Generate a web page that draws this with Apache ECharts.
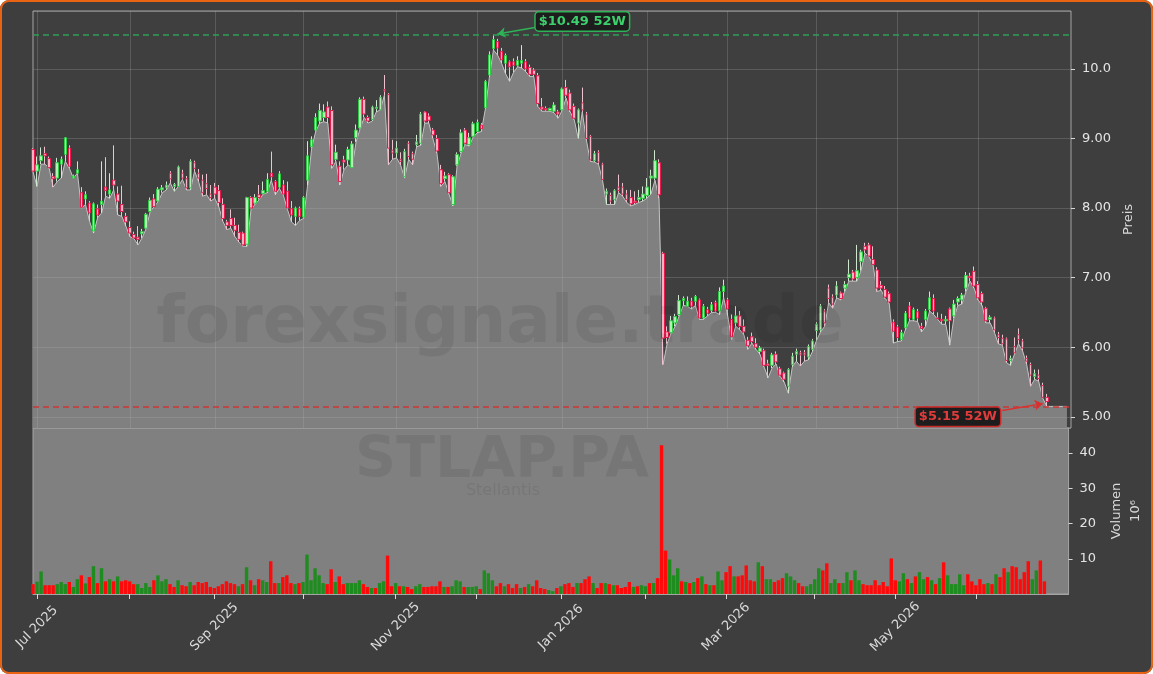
<!DOCTYPE html>
<html>
<head>
<meta charset="utf-8">
<script src="https://cdn.jsdelivr.net/npm/echarts@6/dist/echarts.min.js"></script>
<style>
  html, body { margin: 0; padding: 0; background: #ffffff; }
  #wrap { position: relative; width: 1153px; height: 674px; }
  #main { position: absolute; left: 0; top: 0; width: 1153px; height: 674px; border-radius: 9px; overflow: hidden; }
  #frame { position: absolute; left: 0; top: 0; width: 1153px; height: 674px; box-sizing: border-box;
           border: 2px solid #ea6313; border-radius: 9px; pointer-events: none; }
</style>
</head>
<body>
<div id="wrap">
  <div id="main"></div>
  <div id="frame"></div>
</div>
<script>
// daily OHLC, STLAP.PA, first bar 2025-06-30
var openP = [
  8.84,8.53,8.68,8.78,8.71,8.45,8.43,8.63,8.77,8.86,
  8.43,8.50,8.22,8.13,8.07,7.67,7.99,8.05,8.30,8.20,
  8.40,8.20,8.05,7.88,7.72,7.62,7.58,7.63,7.71,7.95,
  8.13,8.10,8.26,8.29,8.50,8.31,8.31,8.50,8.42,8.29,
  8.65,8.50,8.40,8.35,8.20,8.30,8.25,8.05,7.80,7.85,
  7.75,7.65,7.64,7.48,8.15,8.07,8.19,8.21,8.24,8.50,
  8.38,8.30,8.33,8.24,7.99,7.88,7.99,7.87,8.40,8.88,
  9.12,9.25,9.30,9.45,9.40,8.70,8.60,8.69,8.69,8.58,
  9.01,9.15,9.56,9.30,9.27,9.43,9.41,9.70,9.63,8.83,
  8.79,8.70,8.45,8.93,8.78,8.91,8.93,9.38,9.32,9.12,
  9.00,8.55,8.42,8.48,8.05,8.62,8.81,9.12,8.91,9.03,
  9.10,9.19,9.44,9.91,10.29,10.39,10.25,10.08,10.10,10.10,
  10.05,10.08,10.10,10.02,9.98,9.90,9.45,9.43,9.40,9.39,
  9.38,9.41,9.73,9.65,9.46,9.22,9.51,9.35,9.03,8.68,
  8.80,8.63,8.20,8.18,8.12,8.30,8.30,8.20,8.15,8.10,
  8.12,8.14,8.18,8.43,8.43,8.65,7.35,6.22,6.21,6.35,
  6.47,6.67,6.59,6.66,6.66,6.68,6.42,6.54,6.53,6.64,
  6.52,6.80,6.68,6.40,6.35,6.45,6.30,6.10,6.15,6.05,
  5.94,5.95,5.76,5.74,5.90,5.69,5.63,5.44,5.75,5.90,
  5.92,5.92,5.86,5.97,6.24,6.25,6.52,6.85,6.72,6.75,
  6.78,6.85,7.00,7.08,7.00,7.23,7.45,7.47,7.26,7.11,
  6.89,6.83,6.77,6.36,6.29,6.11,6.28,6.59,6.40,6.51,
  6.30,6.40,6.54,6.70,6.42,6.40,6.38,6.55,6.45,6.65,
  6.68,6.85,7.02,7.09,6.90,6.77,6.56,6.40,6.42,6.18,
  6.13,6.12,5.81,6.01,6.18,6.09,5.84,5.75,5.58,5.60,
  5.45,5.28
];
var closeP = [
  8.53,8.62,8.75,8.75,8.58,8.42,8.65,8.70,9.01,8.60,
  8.46,8.55,8.01,8.19,7.93,8.06,7.90,8.10,8.25,8.26,
  8.33,8.10,7.95,7.80,7.64,7.57,7.55,7.66,7.91,8.11,
  8.02,8.27,8.29,8.33,8.42,8.34,8.59,8.43,8.29,8.67,
  8.57,8.43,8.22,8.28,8.15,8.20,8.08,7.85,7.75,7.75,
  7.68,7.55,7.47,8.15,8.00,8.15,8.15,8.25,8.41,8.45,
  8.24,8.49,8.20,8.00,7.90,8.00,7.88,8.15,8.75,8.98,
  9.30,9.40,9.38,9.30,8.62,8.80,8.38,8.66,8.84,8.92,
  9.12,9.56,9.35,9.25,9.45,9.45,9.59,9.68,8.86,8.79,
  8.86,8.67,8.81,8.74,8.70,8.95,9.35,9.25,9.26,9.05,
  8.82,8.35,8.46,8.22,8.45,8.77,9.08,8.93,9.01,9.21,
  9.23,9.14,9.82,10.20,10.42,10.30,10.13,10.19,10.03,10.05,
  10.12,10.12,10.00,9.92,9.92,9.50,9.42,9.41,9.43,9.48,
  9.35,9.71,9.62,9.41,9.29,9.41,9.41,9.00,8.69,8.78,
  8.66,8.41,8.24,8.10,8.25,8.25,8.20,8.12,8.06,8.08,
  8.15,8.20,8.30,8.46,8.68,8.19,6.13,6.14,6.38,6.44,
  6.67,6.70,6.66,6.59,6.73,6.42,6.59,6.49,6.61,6.52,
  6.80,6.88,6.55,6.15,6.45,6.30,6.22,6.02,6.08,6.00,
  5.99,5.74,5.74,5.89,5.79,5.60,5.54,5.68,5.87,5.94,
  5.89,5.89,6.01,6.09,6.33,6.59,6.35,6.70,6.62,6.88,
  6.70,6.90,7.05,6.98,7.10,7.37,7.40,7.31,7.19,6.85,
  6.85,6.72,6.65,6.23,6.14,6.21,6.49,6.42,6.54,6.42,
  6.27,6.52,6.71,6.52,6.41,6.38,6.40,6.38,6.62,6.70,
  6.75,7.03,7.00,6.88,6.71,6.65,6.38,6.43,6.25,6.14,
  6.05,5.81,5.84,5.92,6.11,5.99,5.80,5.60,5.62,5.55,
  5.28,5.22
];
var highP = [
  8.86,8.74,8.87,8.88,8.74,8.50,8.72,8.74,9.02,8.90,
  8.48,8.67,8.30,8.24,8.10,8.08,8.05,8.67,8.73,8.50,
  8.90,8.31,8.32,7.93,7.81,7.66,7.74,7.70,7.93,8.15,
  8.20,8.30,8.33,8.38,8.53,8.36,8.61,8.55,8.46,8.70,
  8.68,8.56,8.48,8.49,8.33,8.36,8.33,8.14,7.83,7.98,
  7.86,7.76,7.66,8.16,8.17,8.20,8.33,8.38,8.50,8.81,
  8.40,8.53,8.40,8.38,8.10,8.02,8.02,8.17,8.96,9.03,
  9.36,9.50,9.49,9.53,9.46,8.91,8.67,8.75,8.88,8.96,
  9.20,9.59,9.60,9.33,9.47,9.55,9.62,9.91,9.65,8.98,
  8.96,8.80,8.85,8.96,8.81,9.05,9.38,9.39,9.36,9.15,
  9.05,8.62,8.52,8.50,8.47,8.80,9.13,9.15,9.08,9.24,
  9.27,9.22,9.84,10.25,10.49,10.43,10.30,10.22,10.12,10.15,
  10.18,10.34,10.14,10.06,10.01,9.94,9.58,9.46,9.44,9.52,
  9.41,9.73,9.84,9.70,9.50,9.43,9.73,9.38,9.05,8.82,
  8.83,8.65,8.28,8.22,8.27,8.48,8.36,8.26,8.26,8.24,
  8.26,8.31,8.43,8.55,8.83,8.70,7.37,6.30,6.45,6.48,
  6.75,6.73,6.73,6.71,6.75,6.70,6.62,6.58,6.65,6.67,
  6.86,6.97,6.71,6.47,6.59,6.52,6.40,6.15,6.21,6.13,
  6.02,5.98,5.82,5.92,5.94,5.72,5.65,5.70,5.92,5.98,
  5.95,5.96,6.04,6.12,6.36,6.62,6.55,6.90,6.76,6.95,
  6.80,6.95,7.26,7.11,7.47,7.40,7.50,7.50,7.45,7.15,
  6.95,6.88,6.80,6.40,6.32,6.25,6.52,6.65,6.57,6.55,
  6.35,6.55,6.80,6.76,6.50,6.48,6.45,6.57,6.68,6.73,
  6.78,7.08,7.07,7.16,6.95,6.80,6.58,6.46,6.44,6.22,
  6.18,6.14,5.88,6.14,6.27,6.12,5.88,5.78,5.68,5.68,
  5.49,5.33
];
var lowP = [
  8.52,8.31,8.63,8.63,8.57,8.30,8.38,8.43,8.67,8.57,
  8.43,8.50,8.00,8.05,7.81,7.64,7.86,7.93,8.17,8.14,
  8.26,7.90,7.88,7.74,7.59,7.56,7.47,7.57,7.70,7.95,
  8.02,8.09,8.22,8.26,8.36,8.24,8.31,8.41,8.26,8.26,
  8.53,8.38,8.17,8.19,8.10,8.14,8.02,7.81,7.69,7.71,
  7.59,7.51,7.45,7.45,7.99,8.05,8.12,8.20,8.22,8.40,
  8.19,8.28,8.18,7.98,7.80,7.75,7.82,7.85,8.33,8.86,
  9.10,9.22,9.24,9.22,8.57,8.67,8.33,8.55,8.62,8.58,
  8.95,9.14,9.30,9.22,9.25,9.38,9.41,9.62,8.62,8.70,
  8.72,8.62,8.43,8.70,8.62,8.88,8.90,9.22,9.22,9.00,
  8.79,8.31,8.38,8.20,8.03,8.60,8.79,8.91,8.89,9.02,
  9.08,9.10,9.42,9.88,10.27,10.20,10.08,9.93,9.82,9.95,
  10.03,10.01,9.96,9.89,9.89,9.46,9.39,9.39,9.39,9.37,
  9.29,9.40,9.58,9.38,9.27,9.00,9.38,8.98,8.67,8.66,
  8.63,8.40,8.05,8.05,8.05,8.22,8.17,8.08,8.03,8.05,
  8.08,8.10,8.14,8.20,8.40,8.14,5.75,6.05,6.20,6.30,
  6.45,6.60,6.59,6.55,6.60,6.40,6.40,6.45,6.50,6.50,
  6.47,6.71,6.45,6.11,6.30,6.25,6.18,5.97,6.06,5.97,
  5.90,5.72,5.56,5.70,5.76,5.58,5.50,5.34,5.72,5.80,
  5.73,5.80,5.82,5.94,6.10,6.22,6.30,6.64,6.56,6.71,
  6.68,6.80,6.95,6.95,6.95,7.10,7.35,7.30,7.18,6.80,
  6.82,6.70,6.63,6.06,6.08,6.09,6.25,6.38,6.38,6.37,
  6.22,6.30,6.52,6.47,6.40,6.33,6.33,6.03,6.42,6.60,
  6.62,6.80,6.95,6.85,6.68,6.60,6.35,6.35,6.22,6.05,
  6.03,5.78,5.74,5.90,6.05,5.95,5.76,5.44,5.54,5.51,
  5.27,5.15
];
// the shaded price area keeps going flat after the last candle
var areaTail = [5.15, 5.15, 5.15, 5.15, 5.15];

// volume in millions
var volumes = [
  2.8,3.5,6.4,2.5,2.5,2.5,2.8,3.4,2.8,3.4,
  2.0,4.2,5.3,3.0,4.8,7.9,3.1,7.3,3.6,4.2,
  3.6,5.0,3.6,3.9,3.6,2.8,2.8,1.7,3.1,2.0,
  3.9,5.3,3.6,4.2,2.8,2.0,3.9,2.5,2.2,3.4,
  2.5,3.4,3.1,3.4,2.0,1.7,2.2,2.8,3.6,3.1,
  2.8,2.2,2.8,7.6,3.9,2.5,4.2,3.9,3.4,9.3,
  3.1,3.1,4.8,5.3,3.1,2.8,3.1,3.4,11.2,3.9,
  7.3,5.3,3.1,2.8,7.0,3.4,5.0,2.8,3.1,3.1,
  3.1,3.9,2.8,2.0,1.7,1.7,3.1,3.6,10.9,2.2,
  3.1,2.2,2.2,2.0,1.4,2.2,2.8,2.0,2.0,2.2,
  2.2,3.6,2.0,2.0,2.2,3.9,3.6,2.0,2.0,2.0,
  2.2,1.4,6.7,5.9,3.9,2.2,3.1,2.2,2.8,1.7,
  2.8,1.7,2.0,2.8,2.2,3.9,1.7,1.4,1.1,0.8,
  1.7,2.2,2.8,3.1,2.0,3.1,3.1,4.2,5.0,3.1,
  1.7,3.1,3.1,2.8,2.5,2.5,1.7,2.0,3.4,2.0,
  2.2,2.5,2.2,3.1,3.1,4.5,42.2,12.3,9.8,5.3,
  7.3,3.6,3.4,3.1,3.4,4.5,5.0,2.8,2.5,2.5,
  6.4,3.9,6.2,7.9,5.0,5.0,5.3,8.1,3.9,3.6,
  9.0,7.9,4.2,4.2,3.4,3.9,4.5,5.9,5.0,3.9,
  3.1,2.2,2.2,2.8,4.2,7.3,6.7,8.7,3.1,4.2,
  3.1,3.1,6.2,3.9,6.7,3.9,2.8,2.5,2.5,3.9,
  2.5,3.4,2.2,10.1,3.9,3.6,5.9,4.2,3.1,5.0,
  6.2,4.2,4.8,3.9,2.8,4.5,9.0,5.3,2.8,2.8,
  5.6,2.5,5.6,3.6,2.5,4.2,2.8,3.1,2.8,5.6,
  4.8,7.3,6.2,7.9,7.6,4.2,6.2,9.3,4.2,6.7,
  9.5,3.6
];
// g = up day, r = down day (colour of the volume bar)
var volumeDir = [
  "rggrrrgggr","ggrgrgrgrg","rgrrrrgggg","rgggrrgrrg","rrrrrrrrrr",
  "rgrgrgrggr","rgrrrgrggg","gggrrgrrgg","ggrrgrggrr","grgrrggrrr",
  "rrgrgggrgg","grgggrrgrr","rgrgrrrrgg","rgrrrgrrrg","rrgrgrrrrg",
  "rggrgrrrgg","grgrgrgrgr","ggrrgrrrrr","grggrrrggg","rrggggrrgg",
  "rggrggrrrr","rrrrrggrgr","ggrgrgrggg","ggrrrrrgrg","rrgrrrrrgg","rr"
].join("");

var high52 = 10.49;
var low52 = 5.15;
var ticker = "STLAP.PA";
var company = "Stellantis";

var monthNames = ["Jan","Feb","Mar","Apr","May","Jun","Jul","Aug","Sep","Oct","Nov","Dec"];
var holidays = ["2025-12-25","2025-12-26","2026-01-01","2026-04-03","2026-04-06","2026-05-01"];

// Euronext trading calendar
function tradingDays(start, count) {
  var out = [];
  var d = new Date(start + "T00:00:00Z");
  while (out.length < count) {
    var wd = d.getUTCDay();
    var s = d.toISOString().slice(0, 10);
    if (wd !== 0 && wd !== 6 && holidays.indexOf(s) < 0) out.push(s);
    d.setUTCDate(d.getUTCDate() + 1);
  }
  return out;
}

var nBars = openP.length;
var days = tradingDays("2025-06-30", nBars + areaTail.length + 1);

function isMonthStart(i) {
  return i > 0 && i < nBars && days[i].slice(5, 7) !== days[i - 1].slice(5, 7);
}
function isLabelMonth(i) {
  return isMonthStart(i) && (+days[i].slice(5, 7)) % 2 === 1;
}

var areaData = lowP.concat(areaTail);
var wickData = [], bodyData = [], volData = [];
for (var i = 0; i < nBars; i++) {
  var o = openP[i], c = closeP[i];
  var lo = Math.min(lowP[i], o, c), hi = Math.max(highP[i], o, c);
  wickData.push([o, c, lo, hi]);
  bodyData.push([o, c, Math.min(o, c), Math.max(o, c)]);
  volData.push({
    value: volumes[i],
    itemStyle: { color: volumeDir[i] === "g" ? "#1f8c1f" : "#ff0a0a" }
  });
}

var font = "DejaVu Sans";
var gridLine = "rgba(176,176,176,0.25)";

var chart = echarts.init(document.getElementById("main"));
chart.setOption({
  animation: false,
  backgroundColor: "#3e3e3e",
  textStyle: { fontFamily: font },
  grid: [
    { left: 33, right: 82, top: 11, height: 417, show: true,
      backgroundColor: "#3f3f3f", borderColor: "#a4a4a4", borderWidth: 1 },
    { left: 33, right: 82, top: 428, height: 166, show: true,
      backgroundColor: "#808080", borderColor: "#a4a4a4", borderWidth: 1 }
  ],
  xAxis: [
    {
      gridIndex: 0, type: "category", data: days, boundaryGap: false, z: 3,
      axisLine: { show: false }, axisTick: { show: false }, axisLabel: { show: false },
      splitLine: { show: true, interval: function (idx) { return isMonthStart(idx); },
                   lineStyle: { color: gridLine, width: 1 } }
    },
    {
      gridIndex: 1, type: "category", data: days, boundaryGap: false,
      axisLine: { show: true, lineStyle: { color: "#a4a4a4" } },
      axisTick: { show: true, length: 5, interval: function (idx) { return isMonthStart(idx); },
                  lineStyle: { color: "#d8d8d8" } },
      axisLabel: {
        interval: function (idx) { return isLabelMonth(idx); },
        formatter: function (v) { return monthNames[+v.slice(5, 7) - 1] + " " + v.slice(0, 4); },
        rotate: 45, align: "center", verticalAlign: "middle", margin: 33,
        color: "#dadada", fontSize: 13, fontFamily: font
      },
      splitLine: { show: false }
    }
  ],
  yAxis: [
    {
      gridIndex: 0, type: "value", position: "right", min: 4.84, max: 10.83, splitNumber: 5, z: 3,
      axisLine: { show: false },
      axisTick: { show: true, length: 4, lineStyle: { color: "#d8d8d8" } },
      axisLabel: { color: "#e4e4e4", fontSize: 13, margin: 11, showMinLabel: false, showMaxLabel: false,
                   formatter: function (v) { return v.toPrecision(3); } },
      splitLine: { show: true, lineStyle: { color: gridLine, width: 1 } },
      name: "Preis", nameLocation: "middle", nameRotate: 90, nameGap: 48,
      nameTextStyle: { color: "#d8d8d8", fontSize: 13 }
    },
    {
      gridIndex: 1, type: "value", position: "right", min: 0, max: 47.1, splitNumber: 5,
      axisLine: { show: false },
      axisTick: { show: true, length: 4, lineStyle: { color: "#d8d8d8" } },
      axisLabel: { color: "#e4e4e4", fontSize: 13, margin: 11, showMinLabel: false, showMaxLabel: false },
      splitLine: { show: false },
      name: "Volumen\n10\u2076", nameLocation: "middle", nameRotate: 90, nameGap: 34,
      nameTextStyle: { color: "#d8d8d8", fontSize: 13, lineHeight: 19 }
    }
  ],
  graphic: [
    { type: "text", x: 500, y: 325, z: 10, silent: true,
      style: { text: "forexsignale.trade", font: 'bold 66px "DejaVu Sans"', fill: "rgba(0,0,0,0.08)",
               align: "center", verticalAlign: "middle" } },
    { type: "text", x: 502, y: 462, z: 10, silent: true,
      style: { text: ticker, font: 'bold 57px "DejaVu Sans"', fill: "rgba(0,0,0,0.08)",
               align: "center", verticalAlign: "middle" } },
    { type: "text", x: 503, y: 491, z: 10, silent: true,
      style: { text: company, font: '16px "DejaVu Sans"', fill: "rgba(0,0,0,0.08)",
               align: "center", verticalAlign: "middle" } }
  ],
  series: [
    {
      name: "Kurs", type: "line", xAxisIndex: 0, yAxisIndex: 0, data: areaData, z: 2,
      symbol: "none", lineStyle: { color: "#c4c4c4", width: 1 },
      areaStyle: { color: "#808080", opacity: 1 },
      markLine: {
        silent: true, symbol: ["none", "none"], label: { show: false },
        data: [
          { yAxis: high52, lineStyle: { color: "#2f9e55", type: [6, 4], width: 1.5 } },
          { yAxis: low52, lineStyle: { color: "#cc3636", type: [6, 4], width: 1.5 } }
        ]
      }
    },
    {
      name: "Docht", type: "candlestick", xAxisIndex: 0, yAxisIndex: 0, data: wickData, z: 4,
      barWidth: 1,
      itemStyle: { color: "#cfe6cf", color0: "#ecc3cf", borderColor: "#cfe6cf", borderColor0: "#ecc3cf", borderWidth: 1 }
    },
    {
      name: "OHLC", type: "candlestick", xAxisIndex: 0, yAxisIndex: 0, data: bodyData, z: 5,
      barWidth: 3,
      itemStyle: { color: "#b6efb6", color0: "#f6b3c4", borderColor: "#2ecb44", borderColor0: "#e8194c", borderWidth: 1 },
      markLine: {
        silent: true, symbol: ["none", "arrow"], symbolSize: 8, label: { show: false },
        data: [
          [{ coord: [125, 10.60] }, { coord: [115, 10.50], lineStyle: { color: "#2fb257", width: 1.5, type: "solid" } }],
          [{ coord: [240, 5.09] }, { coord: [250, 5.19], lineStyle: { color: "#d9302f", width: 1.5, type: "solid" } }]
        ]
      },
      markPoint: {
        silent: true, symbol: "rect", symbolSize: 1, itemStyle: { color: "rgba(0,0,0,0)" },
        data: [
          { coord: [136, 10.68], label: { show: true, position: "inside", formatter: "$" + high52.toFixed(2) + " 52W",
              color: "#3ccf6c", fontWeight: "bold", fontSize: 13, fontFamily: font,
              backgroundColor: "#1d1d1d", borderColor: "#2fb257", borderWidth: 1.5, borderRadius: 3, padding: [3, 3, 2, 3] } },
          { coord: [229, 5.00], label: { show: true, position: "inside", formatter: "$" + low52.toFixed(2) + " 52W",
              color: "#e23b3b", fontWeight: "bold", fontSize: 13, fontFamily: font,
              backgroundColor: "#1d1d1d", borderColor: "#c92a2a", borderWidth: 1.5, borderRadius: 3, padding: [3, 3, 2, 3] } }
        ]
      }
    },
    {
      name: "Volumen", type: "bar", xAxisIndex: 1, yAxisIndex: 1, data: volData,
      barCategoryGap: "15%"
    }
  ]
});
</script>
</body>
</html>
